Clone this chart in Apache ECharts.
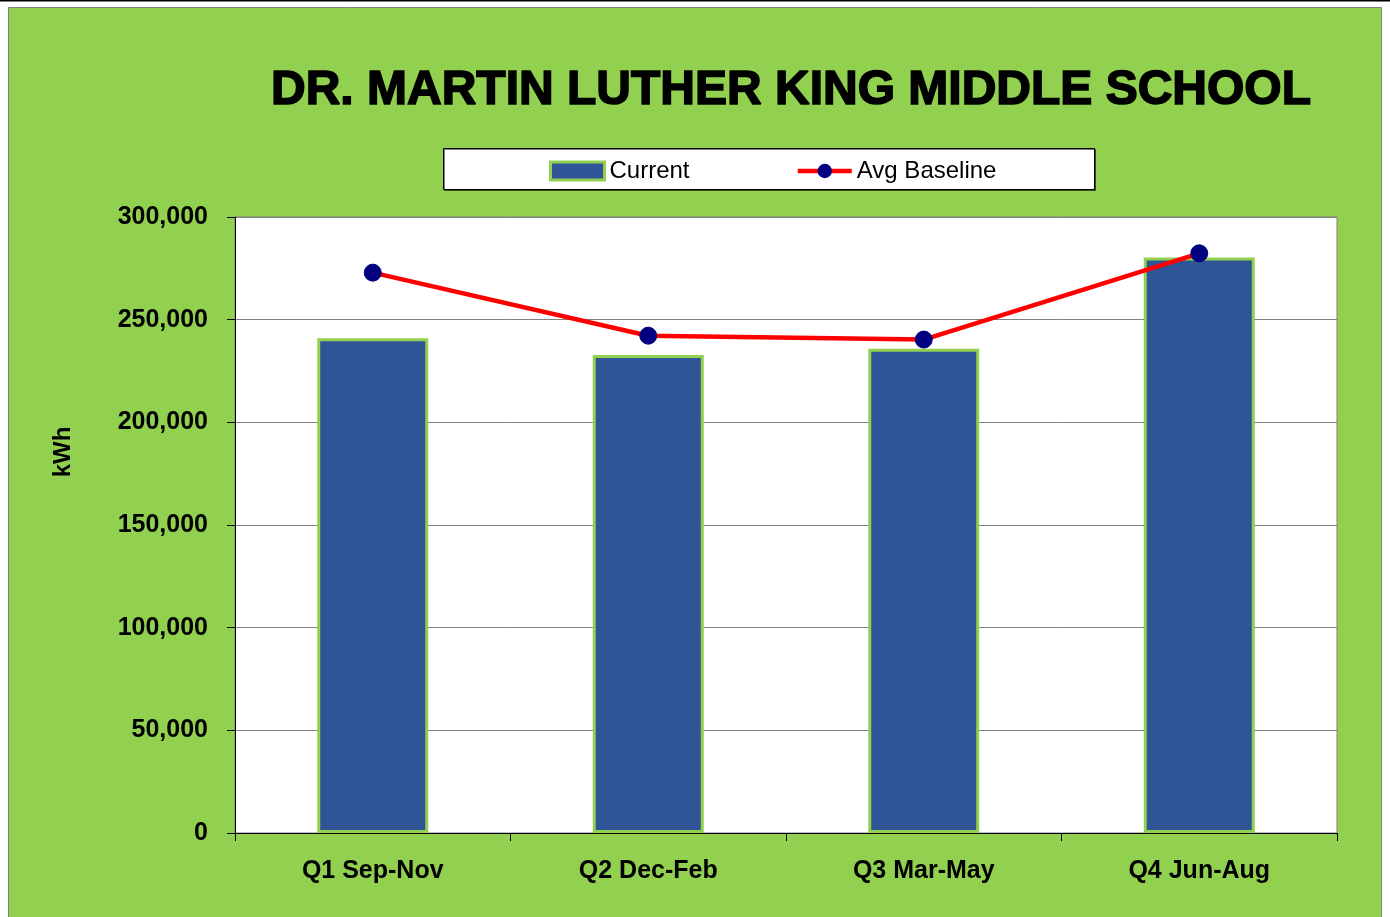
<!DOCTYPE html>
<html><head><meta charset="utf-8">
<script src="https://cdn.jsdelivr.net/npm/echarts@6/dist/echarts.min.js"></script>
<style>html,body{margin:0;padding:0;background:#fff}#c{width:1390px;height:917px}</style>
</head><body><div id="c"></div>
<script>
const categories = ['Q1 Sep-Nov', 'Q2 Dec-Feb', 'Q3 Mar-May', 'Q4 Jun-Aug'];
const currentValues = [241000, 232800, 235800, 280300];
const baselineValues = [272900, 242200, 240300, 282300];
const yTicks = [0, 50000, 100000, 150000, 200000, 250000, 300000];

const chart = echarts.init(document.getElementById('c'), null, {renderer: 'canvas'});
const narrow = '"Liberation Sans Narrow", "Arial Narrow", "Liberation Sans", Arial, sans-serif';
chart.setOption({
  backgroundColor: '#ffffff',
  animation: false,
  graphic: [
    {type: 'rect', z: -10, shape: {x: 8.5, y: 7.5, width: 1373, height: 912}, style: {fill: '#92D050', stroke: '#7f7f7f', lineWidth: 1}},
    {type: 'line', z: -9, shape: {x1: 0, y1: 0.5, x2: 1390, y2: 0.5}, style: {stroke: '#000', lineWidth: 2}},
    {type: 'rect', z: 1, shape: {x: 443.5, y: 148.5, width: 651, height: 41}, style: {fill: '#ffffff', stroke: '#000', lineWidth: 1, shadowColor: 'rgba(0,0,0,0.5)', shadowOffsetX: 1, shadowOffsetY: 1}},
    {type: 'text', z: 5, x: 63, y: 452, rotation: Math.PI / 2,
      style: {text: 'kWh', fill: '#000', font: 'bold 24px "Liberation Sans", Arial, sans-serif', align: 'center', verticalAlign: 'middle'}}
  ],
  title: {
    text: 'DR. MARTIN LUTHER KING MIDDLE SCHOOL',
    left: 786, top: 62, textAlign: 'center',
    textStyle: {fontFamily: '"Liberation Sans", Arial, sans-serif', fontWeight: 'bold', fontSize: 48, color: '#000',
      textBorderColor: '#000', textBorderWidth: 1.6}
  },
  legend: {
    top: 159, left: 549, z: 5, padding: 0,
    itemGap: 106,
    itemWidth: 54, itemHeight: 18,
    textStyle: {fontFamily: '"Liberation Sans", Arial, sans-serif', fontSize: 24, color: '#000'},
    data: [
      {name: 'Current', icon: 'rect', itemStyle: {color: '#2F5597', borderColor: '#92D050', borderWidth: 3}},
      {name: 'Avg Baseline', lineStyle: {color: '#FF0000', width: 4.5}, itemStyle: {color: '#000080'}}
    ]
  },
  grid: {left: 235, right: 53, top: 217, bottom: 84, show: true, backgroundColor: '#ffffff', borderColor: '#808080', borderWidth: 1},
  xAxis: {
    type: 'category', data: categories,
    axisLine: {lineStyle: {color: '#000', width: 1}},
    axisTick: {show: true, inside: false, length: 8, lineStyle: {color: '#000'}},
    axisLabel: {fontFamily: narrow, fontWeight: 'bold', fontSize: 25, color: '#000', margin: 26}
  },
  yAxis: {
    type: 'value', min: 0, max: 300000, interval: 50000,
    axisLine: {show: true, lineStyle: {color: '#000', width: 1}},
    axisTick: {show: true, length: 8, lineStyle: {color: '#000'}},
    axisLabel: {fontFamily: narrow, fontWeight: 'bold', fontSize: 25, color: '#000', margin: 27,
      formatter: v => yTicks.includes(v) ? v.toLocaleString('en-US') : ''},
    splitLine: {show: true, lineStyle: {color: '#808080', width: 1}}
  },
  series: [
    {
      name: 'Current', type: 'bar', barWidth: 111,
      data: currentValues,
      itemStyle: {color: '#2F5597', borderColor: '#92D050', borderWidth: 3},
      z: 2
    },
    {
      name: 'Avg Baseline', type: 'line', data: baselineValues,
      symbol: 'circle', symbolSize: 17,
      lineStyle: {color: '#FF0000', width: 4.5},
      itemStyle: {color: '#000080', borderColor: '#000080'},
      z: 3
    }
  ]
});
</script></body></html>
